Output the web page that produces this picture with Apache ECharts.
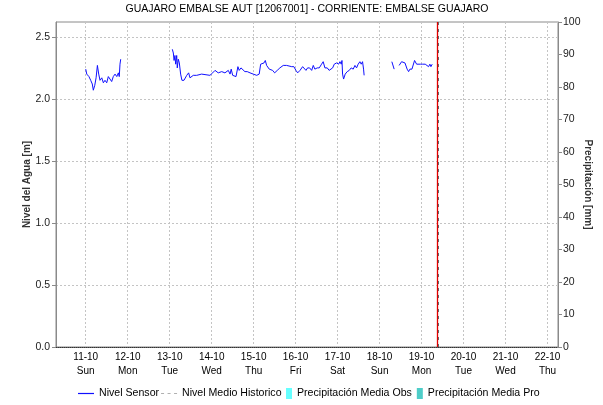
<!DOCTYPE html>
<html>
<head>
<meta charset="utf-8">
<title>GUAJARO EMBALSE AUT</title>
<script src="https://cdn.jsdelivr.net/npm/echarts@6/dist/echarts.min.js"></script>
<style>
  html, body { margin: 0; padding: 0; background: #fff; }
  #chart { width: 603px; height: 405px; }
</style>
</head>
<body>
<div id="chart"></div>
<script>
// Water level readings from the reservoir sensor (m); null marks a gap in transmission
const sensorTimes = [
  '2020-10-11 00:00','2020-10-11 00:35','2020-10-11 01:50','2020-10-11 02:50','2020-10-11 03:45',
  '2020-10-11 04:20','2020-10-11 05:10','2020-10-11 05:55','2020-10-11 06:40','2020-10-11 07:25',
  '2020-10-11 08:10','2020-10-11 09:10','2020-10-11 10:05','2020-10-11 11:00','2020-10-11 12:00',
  '2020-10-11 12:55','2020-10-11 13:55','2020-10-11 14:50','2020-10-11 15:45','2020-10-11 16:45',
  '2020-10-11 17:45','2020-10-11 18:40','2020-10-11 19:10','2020-10-11 19:35','2020-10-11 20:00',
  '2020-10-12 12:00',
  '2020-10-13 01:30','2020-10-13 02:05','2020-10-13 02:30','2020-10-13 03:00','2020-10-13 03:25',
  '2020-10-13 04:00','2020-10-13 04:20','2020-10-13 04:55','2020-10-13 05:30','2020-10-13 06:15',
  '2020-10-13 07:00','2020-10-13 08:10','2020-10-13 09:45','2020-10-13 10:50','2020-10-13 11:35',
  '2020-10-13 12:35','2020-10-13 13:30','2020-10-13 15:25','2020-10-13 18:15','2020-10-13 19:10',
  '2020-10-13 23:00',
  '2020-10-14 00:35','2020-10-14 01:55','2020-10-14 03:45','2020-10-14 05:45','2020-10-14 07:35',
  '2020-10-14 09:30','2020-10-14 10:30','2020-10-14 11:10','2020-10-14 12:00','2020-10-14 12:45',
  '2020-10-14 13:55','2020-10-14 15:00','2020-10-14 15:45','2020-10-14 16:45','2020-10-14 17:45',
  '2020-10-14 19:00','2020-10-14 20:20','2020-10-14 21:55','2020-10-14 23:45',
  '2020-10-15 01:45','2020-10-15 03:10','2020-10-15 04:00','2020-10-15 04:45','2020-10-15 05:55',
  '2020-10-15 06:40','2020-10-15 07:25','2020-10-15 08:10','2020-10-15 08:55','2020-10-15 09:55',
  '2020-10-15 10:50','2020-10-15 12:00','2020-10-15 13:30','2020-10-15 15:00','2020-10-15 16:55',
  '2020-10-15 18:50','2020-10-15 19:45','2020-10-15 21:45','2020-10-15 23:00',
  '2020-10-16 00:10','2020-10-16 01:10','2020-10-16 02:30','2020-10-16 04:00','2020-10-16 04:55',
  '2020-10-16 05:55','2020-10-16 06:50','2020-10-16 08:00','2020-10-16 08:10','2020-10-16 09:10',
  '2020-10-16 10:05','2020-10-16 11:00','2020-10-16 12:20','2020-10-16 13:30','2020-10-16 14:50',
  '2020-10-16 15:45','2020-10-16 16:45','2020-10-16 18:05','2020-10-16 19:10','2020-10-16 20:10',
  '2020-10-16 21:10','2020-10-16 22:05','2020-10-16 23:25',
  '2020-10-17 00:35','2020-10-17 01:20','2020-10-17 02:05','2020-10-17 02:30','2020-10-17 02:50',
  '2020-10-17 03:25','2020-10-17 04:20','2020-10-17 05:30','2020-10-17 06:40','2020-10-17 07:45',
  '2020-10-17 08:55','2020-10-17 09:55','2020-10-17 10:50','2020-10-17 11:45','2020-10-17 12:45',
  '2020-10-17 13:30','2020-10-17 14:15','2020-10-17 14:50','2020-10-17 15:10',
  '2020-10-18 00:00',
  '2020-10-18 07:00','2020-10-18 08:20',
  '2020-10-18 09:45',
  '2020-10-18 11:10','2020-10-18 12:35','2020-10-18 13:30','2020-10-18 14:30','2020-10-18 15:00',
  '2020-10-18 15:45','2020-10-18 16:35','2020-10-18 17:20','2020-10-18 18:30','2020-10-18 19:10',
  '2020-10-18 20:00','2020-10-18 21:10','2020-10-18 22:15','2020-10-18 23:25',
  '2020-10-19 00:35','2020-10-19 01:20','2020-10-19 02:05','2020-10-19 03:10','2020-10-19 04:00',
  '2020-10-19 04:45','2020-10-19 05:20','2020-10-19 06:05'
];
const sensorLevels = [
  2.24, 2.20, 2.18, 2.15, 2.12,
  2.07, 2.11, 2.17, 2.27, 2.20,
  2.15, 2.17, 2.13, 2.15, 2.13,
  2.18, 2.17, 2.14, 2.18, 2.20,
  2.18, 2.21, 2.18, 2.28, 2.32,
  null,
  2.40, 2.37, 2.31, 2.35, 2.28,
  2.35, 2.25, 2.32, 2.29, 2.20,
  2.15, 2.15, 2.19, 2.21, 2.17,
  2.16, 2.19, 2.19, 2.20, 2.19,
  2.19,
  2.21, 2.23, 2.21, 2.22, 2.21,
  2.23, 2.20, 2.24, 2.19, 2.18,
  2.18, 2.26, 2.23, 2.25, 2.25,
  2.22, 2.22, 2.21, 2.20,
  2.19, 2.20, 2.28, 2.27, 2.29,
  2.31, 2.27, 2.28, 2.24, 2.25,
  2.23, 2.21, 2.23, 2.25, 2.27,
  2.27, 2.26, 2.26, 2.26,
  2.23, 2.21, 2.23, 2.26, 2.25,
  2.23, 2.25, 2.25, 2.26, 2.23,
  2.27, 2.24, 2.25, 2.25, 2.28,
  2.30, 2.25, 2.25, 2.23, 2.22,
  2.25, 2.28, 2.29,
  2.28, 2.30, 2.28, 2.31, 2.20,
  2.16, 2.20, 2.22, 2.23, 2.25,
  2.24, 2.27, 2.25, 2.28, 2.30,
  2.28, 2.30, 2.24, 2.19,
  null,
  2.30, 2.24,
  null,
  2.27, 2.30, 2.31, 2.29, 2.30,
  2.24, 2.22, 2.24, 2.24, 2.23,
  2.31, 2.28, 2.29, 2.28,
  2.28, 2.29, 2.28, 2.28, 2.26,
  2.28, 2.26, 2.28
];

// Historical mean level and precipitation series (no values in this window)
const historicTimes = [];
const historicLevels = [];
const precipTimes = [];
const precipObs = [];
const precipPro = [];

// Axis range, day ticks and the current-time marker
const axisStart = '2020-10-10 07:00';
const axisEnd = '2020-10-22 06:00';
const dayTicks = [
  '2020-10-11 00:00', '2020-10-12 00:00', '2020-10-13 00:00', '2020-10-14 00:00',
  '2020-10-15 00:00', '2020-10-16 00:00', '2020-10-17 00:00', '2020-10-18 00:00',
  '2020-10-19 00:00', '2020-10-20 00:00', '2020-10-21 00:00', '2020-10-22 00:00'
];
const weekDays = ['Sun', 'Mon', 'Tue', 'Wed', 'Thu', 'Fri', 'Sat'];
const nowMark = '2020-10-19 09:10';
const nowMarkShadow = '2020-10-19 09:45';

const FONT = '"Liberation Sans", Arial, sans-serif';
const pad = n => (n < 10 ? '0' : '') + n;
const ts = s => +echarts.time.parse(s);

const sensorData = sensorTimes.map((t, i) => [ts(t), sensorLevels[i] === null ? '-' : sensorLevels[i]]);
const historicData = historicTimes.map((t, i) => [ts(t), historicLevels[i]]);
const obsData = precipTimes.map((t, i) => [ts(t), precipObs[i]]);
const proData = precipTimes.map((t, i) => [ts(t), precipPro[i]]);
const dayTickValues = dayTicks.map(ts);

// Legend glyphs: a solid stroke, a dashed stroke and small upright swatches
const solidIcon = 'path://M0,0 H16 V1.2 H0 Z';
const dashedIcon = 'path://M0,0 H3 V1.2 H0 Z M6.5,0 H9.5 V1.2 H6.5 Z M13,0 H16 V1.2 H13 Z';

const chart = echarts.init(document.getElementById('chart'), null, { renderer: 'canvas' });

const dashedGrid = { color: '#c4c4c4', type: [2, 2], width: 1 };
const legendText = { fontFamily: FONT, fontSize: 10.6, color: '#000' };

chart.setOption({
  animation: false,
  backgroundColor: '#ffffff',
  textStyle: { fontFamily: FONT },
  title: {
    text: 'GUAJARO EMBALSE AUT [12067001] - CORRIENTE: EMBALSE GUAJARO',
    left: 307,
    textAlign: 'center',
    top: 4,
    padding: 0,
    textStyle: { fontFamily: FONT, fontSize: 10.5, fontWeight: 'normal', color: '#000' }
  },
  grid: {
    left: 56, right: 45, top: 22, bottom: 58,
    outerBoundsMode: 'none',
    containLabel: false,
    show: true, borderColor: '#8a8a8a', borderWidth: 1, backgroundColor: '#fff'
  },
  legend: [
    {
      left: 78, top: 388, padding: 0, itemGap: 2, itemWidth: 16, itemHeight: 11,
      textStyle: legendText,
      data: [
        { name: 'Nivel Sensor', icon: solidIcon },
        { name: 'Nivel Medio Historico', icon: dashedIcon }
      ]
    },
    {
      left: 286, top: 388, padding: 0, itemGap: 5, itemWidth: 6, itemHeight: 11,
      textStyle: legendText,
      data: [
        { name: 'Precipitación Media Obs', icon: 'rect' },
        { name: 'Precipitación Media Pro', icon: 'rect' }
      ]
    }
  ],
  xAxis: {
    type: 'value',
    min: ts(axisStart),
    max: ts(axisEnd),
    axisLine: { show: true, lineStyle: { color: '#333', type: [1, 1], width: 1 } },
    axisTick: { show: false, customValues: dayTickValues },
    axisLabel: {
      customValues: dayTickValues,
      hideOverlap: false,
      margin: 3,
      fontFamily: FONT,
      fontSize: 10,
      lineHeight: 14,
      color: '#000',
      formatter: function (value) {
        const d = new Date(value);
        return pad(d.getDate()) + '-' + pad(d.getMonth() + 1) + '\n' + weekDays[d.getDay()];
      }
    },
    splitLine: { show: true, lineStyle: dashedGrid }
  },
  yAxis: [
    {
      type: 'value',
      min: 0,
      max: 2.62,
      interval: 0.5,
      name: 'Nivel del Agua [m]',
      nameLocation: 'middle',
      nameGap: 24,
      nameMoveOverlap: false,
      nameRotate: 90,
      nameTextStyle: { fontFamily: FONT, fontSize: 10, fontWeight: 'bold', color: '#333' },
      axisLine: { show: true, lineStyle: { color: '#8a8a8a' } },
      axisTick: { show: true, length: 4, lineStyle: { color: '#8a8a8a' } },
      axisLabel: {
        showMaxLabel: false,
        margin: 6,
        fontFamily: FONT,
        fontSize: 10.5,
        color: '#222',
        formatter: v => (Math.abs(v * 2 - Math.round(v * 2)) < 1e-6 ? v.toFixed(1) : '')
      },
      splitLine: { show: true, lineStyle: dashedGrid }
    },
    {
      type: 'value',
      min: 0,
      max: 100,
      interval: 10,
      position: 'right',
      name: 'Precipitación [mm]',
      nameLocation: 'middle',
      nameGap: 25,
      nameMoveOverlap: false,
      nameRotate: -90,
      nameTextStyle: { fontFamily: FONT, fontSize: 10, fontWeight: 'bold', color: '#333' },
      axisLine: { show: true, lineStyle: { color: '#8a8a8a' } },
      axisTick: { show: true, length: 4, lineStyle: { color: '#8a8a8a' } },
      axisLabel: { margin: 5, fontFamily: FONT, fontSize: 10.5, color: '#222' },
      splitLine: { show: false }
    }
  ],
  series: [
    {
      name: 'Nivel Sensor',
      type: 'line',
      yAxisIndex: 0,
      data: sensorData,
      showSymbol: false,
      symbol: 'none',
      connectNulls: false,
      lineStyle: { color: '#1010ff', width: 1 },
      itemStyle: { color: '#1010ff' },
      z: 5,
      markLine: {
        silent: true,
        symbol: 'none',
        label: { show: false },
        data: [
          { xAxis: ts(nowMark), lineStyle: { color: '#e00000', width: 1.3, type: 'solid' } },
          { xAxis: ts(nowMarkShadow), lineStyle: { color: '#666', width: 1, type: [3, 4] } }
        ]
      }
    },
    {
      name: 'Nivel Medio Historico',
      type: 'line',
      yAxisIndex: 0,
      data: historicData,
      symbol: 'none',
      lineStyle: { color: '#b0b0b0', width: 1, type: [3, 3] },
      itemStyle: { color: '#b0b0b0' }
    },
    {
      name: 'Precipitación Media Obs',
      type: 'bar',
      yAxisIndex: 1,
      data: obsData,
      itemStyle: { color: '#66ffff' }
    },
    {
      name: 'Precipitación Media Pro',
      type: 'bar',
      yAxisIndex: 1,
      data: proData,
      itemStyle: { color: '#4ecdc8' }
    }
  ]
});
</script>
</body>
</html>
